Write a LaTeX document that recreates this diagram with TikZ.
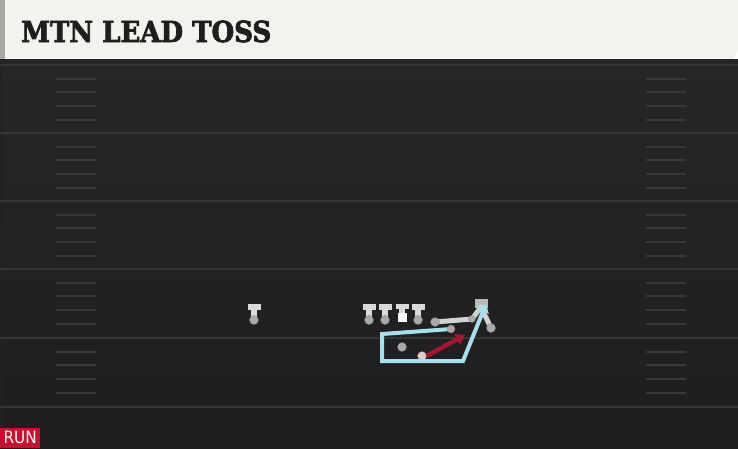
\documentclass[tikz,border=0pt]{standalone}
\usepackage{fontspec}
\usetikzlibrary{arrows.meta}
\newfontfamily\titlefont{DejaVu Serif Condensed}[BoldFeatures={FakeBold=2.5}]
\newfontfamily\runfont{DejaVu Sans Condensed}
\definecolor{fieldtop}{HTML}{262626}
\definecolor{fieldbot}{HTML}{1E1E1E}
\definecolor{yardc}{HTML}{363636}
\definecolor{hashc}{HTML}{383838}
\definecolor{cream}{HTML}{F4F2EC}
\definecolor{leftgray}{HTML}{A8A9A6}
\definecolor{titlec}{HTML}{1E1E1E}
\definecolor{runred}{HTML}{C8102E}
\definecolor{playerc}{HTML}{DADADA}
\definecolor{dotc}{HTML}{A9A9A9}
\definecolor{routeblue}{HTML}{A6DFEE}
\definecolor{routered}{HTML}{A3162F}
\definecolor{routegray}{HTML}{D2D2D2}
\tikzset{
  yard/.style={draw=yardc, line width=2pt},
  hashmark/.style={draw=hashc, line width=1.5pt},
  playerbar/.style={fill=playerc},
  playerdot/.style={circle, fill=dotc, draw=black!50, line width=0.3pt, minimum size=9pt, inner sep=0pt},
  bluepath/.style={draw=routeblue, line width=4pt, line join=miter},
  redpath/.style={draw=routered, line width=4.5pt},
  graypath/.style={draw=routegray, line width=5pt, line cap=round},
}
\newcommand{\tplayer}[2]{%
  \fill[playerbar] (#1-6.5,#2-16) rectangle (#1+6.5,#2-10.5);
  \fill[playerbar] (#1-2.7,#2-10.5) rectangle (#1+2.7,#2-2);
}
\begin{document}
\begin{tikzpicture}[x=1pt,y=-1pt]
\useasboundingbox (0,0) rectangle (738,448);
% field
\shade[top color=fieldtop, bottom color=fieldbot] (0,59) rectangle (738,448);
\fill[black!12!fieldtop] (0,62) rectangle (3,448);
% header
\fill[cream] (5,0) -- (738,0) -- (738,50) -- (733,59) -- (5,59) -- cycle;
\fill[leftgray] (0,0) rectangle (5,59);
\fill[black!85] (0,59) rectangle (738,62);
\node[anchor=base west, inner sep=0pt, text=titlec] (title) at (21,42)
  {\resizebox{250pt}{!}{\titlefont\bfseries MTN LEAD TOSS}};
% yard lines
\foreach \y in {65,133,201,269,338,407} {\draw[yard] (0,\y) -- (738,\y);}
% hash marks
\foreach \y in {65,133,201,269,338} {
  \foreach \d in {14,27,41,55} {
    \draw[hashmark] (56,\y+\d) -- (96,\y+\d);
    \draw[hashmark] (646,\y+\d) -- (686,\y+\d);
  }
}
% players
\tplayer{254}{320}
\node[playerdot] (wr) at (254,320) {};
\tplayer{369}{320}
\node[playerdot] (lt) at (369,320) {};
\tplayer{385}{320}
\node[playerdot] (lg) at (385,320) {};
\fill[playerbar] (395.5,303.5) rectangle (408.5,309);
\fill[playerbar] (399.3,309) rectangle (404.7,313);
\node[fill=white, minimum width=9pt, minimum height=9pt, inner sep=0pt] (c) at (402,317.5) {};
\tplayer{418}{320}
\node[playerdot] (rg) at (418,320) {};
% QB
\node[fill=playerc!85!black, minimum width=13pt, minimum height=9pt, inner sep=0pt] (qb) at (481,303.5) {};
% gray routes
\coordinate (g1) at (435,322);
\coordinate (g2) at (472,319);
\coordinate (g3) at (481,307);
\coordinate (g4) at (491,328);
\draw[graypath, line join=round] (g1) -- (g2) -- (g3);
\draw[graypath] (g3) -- (g4);
\node[playerdot] (rb1) at (g1) {};
\node[playerdot, minimum size=7pt] (rbmid) at (g2) {};
\node[playerdot] (rb2) at (g4) {};
% other backs
\node[playerdot] (fb) at (402,347) {};
\node[playerdot, fill=dotc!75!red!40] (tb) at (422,356) {};
% blue route
\coordinate (b0) at (451,329);
\coordinate (b1) at (382,334);
\coordinate (b2) at (382,361);
\coordinate (b3) at (463,361);
\coordinate (b4) at (486,304);
\draw[bluepath, -{Triangle[length=8pt,width=12pt]}] (b0) -- (b1) -- (b2) -- (b3) -- (b4);
\node[playerdot, minimum size=8pt] (bend) at (b0) {};
% red route
\coordinate (r1) at (465,335);
\draw[redpath, -{Triangle[length=9pt,width=12pt]}] (tb.east) -- (r1);
% RUN label
\node[fill=runred, text=white, anchor=south west, minimum width=40pt, minimum height=20pt, inner sep=0pt] (run) at (0,448) {\fontsize{17}{17}\runfont RUN};
\end{tikzpicture}
\end{document}
